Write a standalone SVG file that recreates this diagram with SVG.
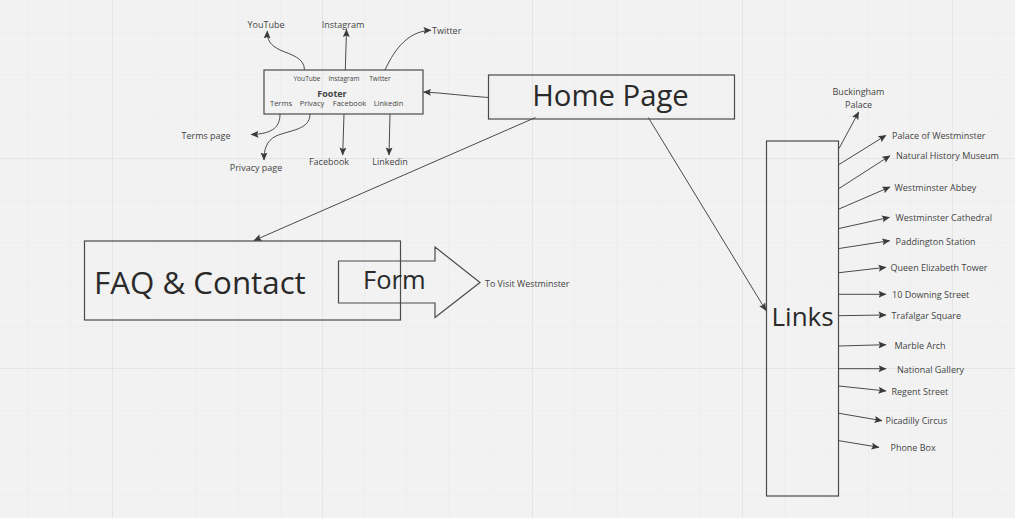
<svg xmlns="http://www.w3.org/2000/svg" width="1015" height="518" viewBox="0 0 1015 518">
<style>
.box{fill:none;stroke:#4a4a4a;stroke-width:1.2}
.ln{fill:none;stroke:#4a4a4a;stroke-width:1;marker-end:url(#ah)}
.t{font-family:"Open Sans","Liberation Sans",sans-serif;fill:#444;dominant-baseline:central}
.s9{font-size:9px}
.big{font-family:"Open Sans","Liberation Sans",sans-serif;fill:#2a2a2a}
</style>
<defs>
<marker id="ah" markerUnits="userSpaceOnUse" markerWidth="9" markerHeight="8" refX="7.5" refY="4" orient="auto">
<path d="M0,0.5 L8,4 L0,7.5 L1.5,4 Z" fill="#3a3a3a"/>
</marker>
<pattern id="minor" patternUnits="userSpaceOnUse" width="42" height="42" x="28" y="32">
<path d="M0,0 H42 M0,0 V42" fill="none" stroke="#e9e9e9" stroke-width="1"/>
</pattern>
<pattern id="major" patternUnits="userSpaceOnUse" width="210" height="210" x="112" y="158">
<path d="M0,0 H210 M0,0 V210" fill="none" stroke="#e5e5e5" stroke-width="2"/>
</pattern>
</defs>
<rect width="1015" height="518" fill="#f2f2f2"/>
<rect width="1015" height="518" fill="url(#minor)"/>
<rect width="1015" height="518" fill="url(#major)"/>

<g id="footer">
<rect class="box" x="264" y="70" width="159" height="44"/>
<text class="t" x="307" y="78.5" font-size="6.6" text-anchor="middle" fill="#5a5a5a">YouTube</text>
<text class="t" x="344" y="78.5" font-size="6.6" text-anchor="middle" fill="#5a5a5a">Instagram</text>
<text class="t" x="380" y="78.5" font-size="6.6" text-anchor="middle" fill="#5a5a5a">Twitter</text>
<text class="t" x="332" y="93.5" font-size="9" font-weight="bold" text-anchor="middle" fill="#333">Footer</text>
<text class="t" x="281" y="103" font-size="7.5" text-anchor="middle" fill="#5a5a5a">Terms</text>
<text class="t" x="312" y="103" font-size="7.5" text-anchor="middle" fill="#5a5a5a">Privacy</text>
<text class="t" x="349.5" y="103" font-size="7.5" text-anchor="middle" fill="#5a5a5a">Facebook</text>
<text class="t" x="388.5" y="103" font-size="7.5" text-anchor="middle" fill="#5a5a5a">Linkedin</text>
</g>

<g id="footer-labels">
<text class="t s9" x="266" y="24" text-anchor="middle">YouTube</text>
<text class="t s9" x="343" y="24" text-anchor="middle">Instagram</text>
<text class="t s9" x="432" y="30.5">Twitter</text>
<text class="t s9" x="206" y="135" text-anchor="middle">Terms page</text>
<text class="t s9" x="256" y="167.5" text-anchor="middle">Privacy page</text>
<text class="t s9" x="329" y="161.5" text-anchor="middle">Facebook</text>
<text class="t s9" x="390" y="161.5" text-anchor="middle">Linkedin</text>
</g>

<g id="home">
<rect class="box" x="488.5" y="75" width="246" height="44"/>
<text class="big" x="610.5" y="106" font-size="29.3" text-anchor="middle">Home Page</text>
</g>

<g id="faq">
<rect class="box" x="84.5" y="241" width="316" height="79"/>
<text class="big" x="94" y="293.5" font-size="31.3">FAQ &amp; Contact</text>
</g>

<g id="form">
<polygon class="box" points="338.5,261 435,261 435,247 480,282.5 435,317.5 435,303 338.5,303"/>
<text class="big" x="363" y="288.5" font-size="25.5">Form</text>
</g>
<g id="visit">
<text class="t" x="485" y="283" font-size="8.9">To Visit Westminster</text>
</g>

<g id="links">
<rect class="box" x="766.5" y="141" width="72" height="355"/>
<text class="big" x="771.5" y="326" font-size="26">Links</text>
</g>

<g id="link-labels">
<text class="t s9" x="858.5" y="91" text-anchor="middle">Buckingham</text>
<text class="t s9" x="858.5" y="104" text-anchor="middle">Palace</text>
<text class="t s9" x="892" y="135">Palace of Westminster</text>
<text class="t s9" x="896" y="155">Natural History Museum</text>
<text class="t s9" x="894.5" y="187">Westminster Abbey</text>
<text class="t s9" x="895.5" y="217.5">Westminster Cathedral</text>
<text class="t s9" x="895.5" y="241">Paddington Station</text>
<text class="t s9" x="890.5" y="267.5">Queen Elizabeth Tower</text>
<text class="t s9" x="892" y="294.5">10 Downing Street</text>
<text class="t s9" x="891.5" y="315">Trafalgar Square</text>
<text class="t s9" x="894.5" y="345">Marble Arch</text>
<text class="t s9" x="897" y="369.5">National Gallery</text>
<text class="t s9" x="891.5" y="391.5">Regent Street</text>
<text class="t s9" x="885.5" y="420.5">Picadilly Circus</text>
<text class="t s9" x="890.5" y="447.5">Phone Box</text>
</g>

<g id="connectors">
<path class="ln" d="M304.5,69.5 C304,58 292,55 280,50 C270,45 267,40 267.3,31"/>
<path class="ln" d="M345.3,70 L346.5,29.5"/>
<path class="ln" d="M385,70 C392,55 405,31 431,30.3"/>
<path class="ln" d="M280,114 C280,126 274,134 251,134.5"/>
<path class="ln" d="M310,114 C310,130 290,130 276,136 C266,141 264,150 264,160"/>
<path class="ln" d="M344,114 L342.7,155"/>
<path class="ln" d="M390,114 L389,155"/>
<path class="ln" d="M488.5,97.5 C465,96 445,93 423.5,92"/>
<path class="ln" d="M535.5,117.5 L254,240.5"/>
<path class="ln" d="M648.3,117.5 L766,310.5"/>
<path class="ln" d="M839,148.5 L858.7,112"/>
<path class="ln" d="M839,164.5 L886,135.3"/>
<path class="ln" d="M839,188.5 L890,155.7"/>
<path class="ln" d="M839,209 L890,187"/>
<path class="ln" d="M839,228.5 L889.5,217.3"/>
<path class="ln" d="M839,248.5 L889.7,240.7"/>
<path class="ln" d="M839,272.7 L886,267.3"/>
<path class="ln" d="M839,294.3 L886,294.3"/>
<path class="ln" d="M839,315.7 L886,315"/>
<path class="ln" d="M839,346 L886,344.7"/>
<path class="ln" d="M839,368.7 L886,368.7"/>
<path class="ln" d="M839,386 L886,391"/>
<path class="ln" d="M839,413.3 L882,420.7"/>
<path class="ln" d="M839,440.7 L879,447.3"/>
</g>
</svg>
